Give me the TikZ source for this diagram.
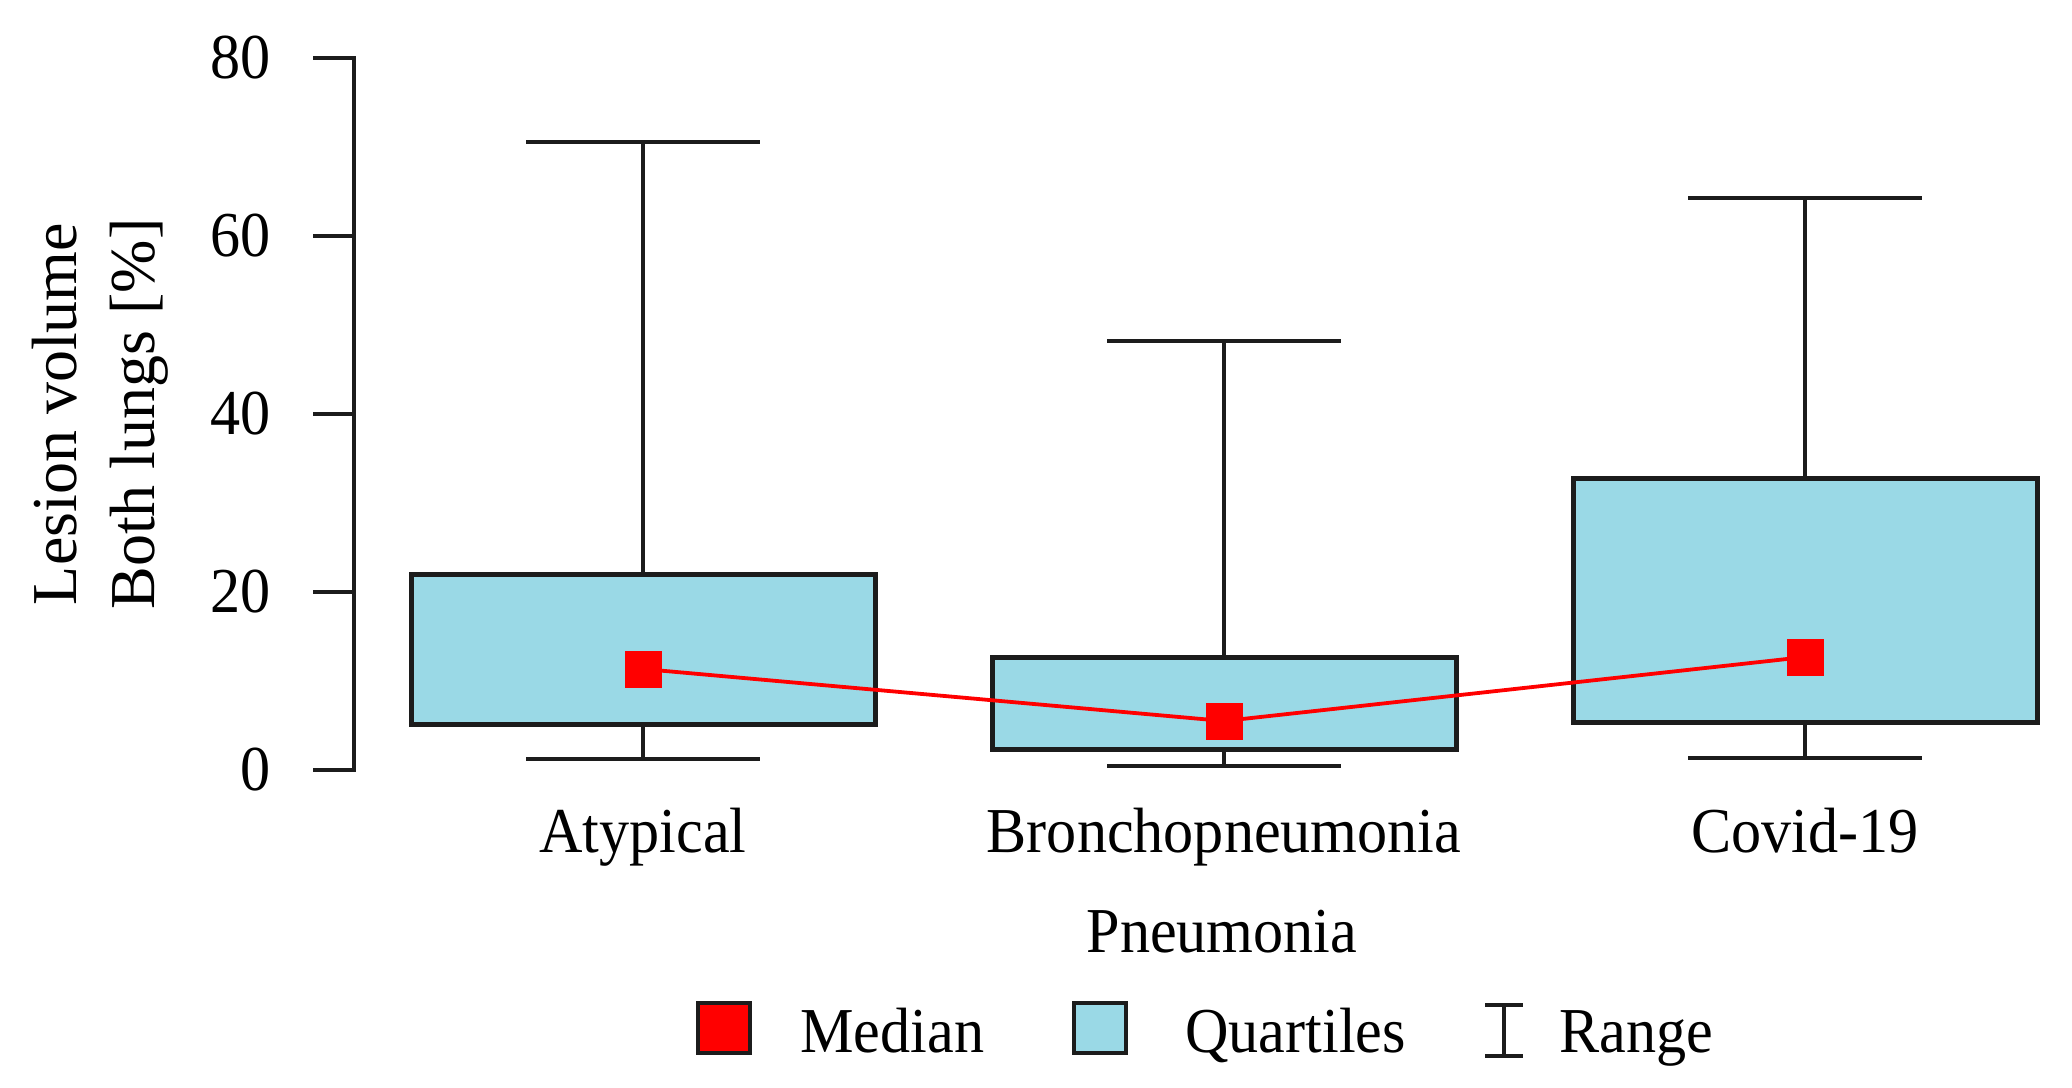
\documentclass[tikz,border=0pt]{standalone}
\usepackage{fontspec}
\setmainfont{Liberation Serif}[FakeStretch=0.94]
\newfontfamily\rotfont{Liberation Serif}
\definecolor{boxblue}{RGB}{154,217,230}
\definecolor{inkblack}{RGB}{28,28,28}
\definecolor{medred}{RGB}{255,0,0}
\begin{document}
\begin{tikzpicture}[x=0.5pt,y=-0.5pt,
  txt/.style={font=\fontsize{32}{38}\selectfont, inner sep=0pt, text=black},
  rottxt/.style={font=\rotfont\fontsize{32}{38}\selectfont, inner sep=0pt, rotate=90, anchor=base},
  axisline/.style={draw=inkblack, line width=2.4pt},
  whisk/.style={draw=inkblack, line width=2.3pt},
  quartbox/.style={draw=inkblack, fill=boxblue, line width=2.5pt},
  medline/.style={draw=medred, line width=1.9pt},
  medsq/.style={fill=medred, draw=none, minimum size=18.5pt, inner sep=0pt},
  legred/.style={fill=medred, draw=inkblack, line width=2.2pt, minimum width=26pt, minimum height=25pt, inner sep=0pt},
  legblue/.style={fill=boxblue, draw=inkblack, line width=2.2pt, minimum width=26pt, minimum height=25pt, inner sep=0pt}]
\useasboundingbox (0,0) rectangle (2072,1087);

% y axis
\draw[axisline] (313,58) -- (354,58) -- (354,770) -- (313,770);
\foreach \yy in {592,414,236} {
  \draw[axisline] (313,\yy) -- (354,\yy);
}
\node[txt, anchor=east] (t0) at (271,770) {0};
\node[txt, anchor=east] (t20) at (271,592) {20};
\node[txt, anchor=east] (t40) at (271,414) {40};
\node[txt, anchor=east] (t60) at (271,236) {60};
\node[txt, anchor=east] (t80) at (271,58) {80};

% y axis title
\node[rottxt] (yt1) at (76,414) {Lesion volume};
\node[rottxt] (yt2) at (154,414) {Both lungs [\%]};

% whiskers
\foreach \cx/\top/\bot in {643/142/759, 1224/341/766, 1805/198/758} {
  \draw[whisk] (\cx,\top) -- (\cx,\bot);
  \draw[whisk] (\cx-117,\top) -- (\cx+117,\top);
  \draw[whisk] (\cx-117,\bot) -- (\cx+117,\bot);
}

% boxes
\draw[quartbox] (411,574) rectangle (875,724);
\draw[quartbox] (992,657) rectangle (1456,749);
\draw[quartbox] (1573,478) rectangle (2037,722);

% medians
\coordinate (m1) at (643,669);
\coordinate (m2) at (1224,721);
\coordinate (m3) at (1805,657);
\draw[medline] (m1) -- (m2) -- (m3);
\node[medsq] (s1) at (m1) {};
\node[medsq] (s2) at (m2) {};
\node[medsq] (s3) at (m3) {};

% category labels
\node[txt, anchor=base] (c1) at (643,852) {Atypical};
\node[txt, anchor=base] (c2) at (1224,852) {Bronchopneumonia};
\node[txt, anchor=base] (c3) at (1805,852) {Covid-19};
\node[txt, anchor=base] (xt) at (1222,952) {Pneumonia};

% legend
\node[legred] (lg1) at (724,1028) {};
\node[txt, anchor=base west] (lt1) at (800,1052) {Median};
\node[legblue] (lg2) at (1100,1028) {};
\node[txt, anchor=base west] (lt2) at (1185,1052) {Quartiles};
\coordinate (rt) at (1504,1005);
\coordinate (rb) at (1504,1056);
\draw[whisk, line width=2.4pt] (rt) -- (rb);
\draw[whisk, line width=2.4pt] ([xshift=-9.5pt]rt) -- ([xshift=9.5pt]rt);
\draw[whisk, line width=2.4pt] ([xshift=-9.5pt]rb) -- ([xshift=9.5pt]rb);
\node[txt, anchor=base west] (lt3) at (1559,1052) {Range};
\end{tikzpicture}
\end{document}
